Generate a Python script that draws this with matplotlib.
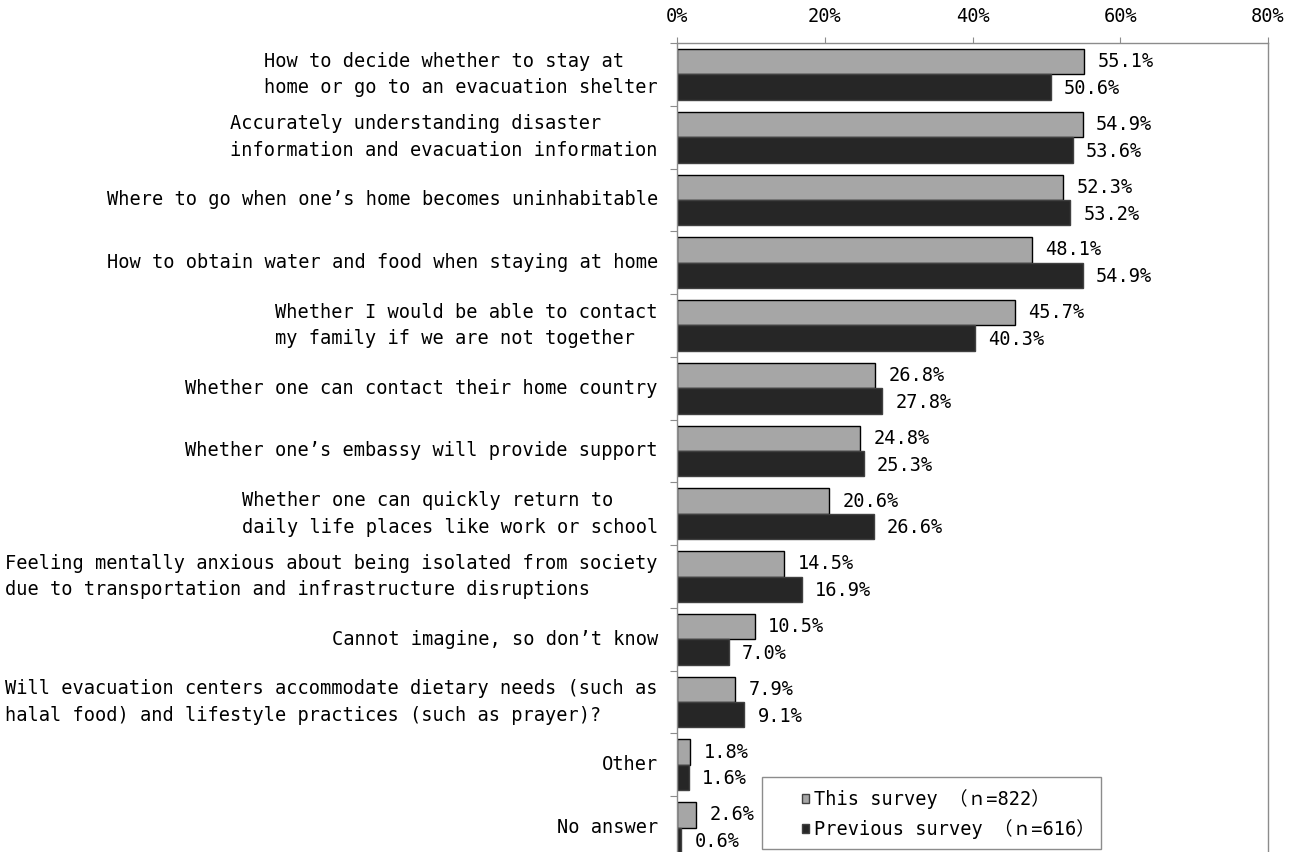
import matplotlib.pyplot as plt
from matplotlib.patches import Patch, Rectangle
import numpy as np

# === Data ===
categories = [
    "How to decide whether to stay at\nhome or go to an evacuation shelter",
    "Accurately understanding disaster\ninformation and evacuation information",
    "Where to go when one’s home becomes uninhabitable",
    "How to obtain water and food when staying at home",
    "Whether I would be able to contact\nmy family if we are not together",
    "Whether one can contact their home country",
    "Whether one’s embassy will provide support",
    "Whether one can quickly return to\ndaily life places like work or school",
    "Feeling mentally anxious about being isolated from society\ndue to transportation and infrastructure disruptions",
    "Cannot imagine, so don’t know",
    "Will evacuation centers accommodate dietary needs (such as\nhalal food) and lifestyle practices (such as prayer)?",
    "Other",
    "No answer",
]
this_survey = [55.1, 54.9, 52.3, 48.1, 45.7, 26.8, 24.8, 20.6, 14.5, 10.5, 7.9, 1.8, 2.6]
prev_survey = [50.6, 53.6, 53.2, 54.9, 40.3, 27.8, 25.3, 26.6, 16.9, 7.0, 9.1, 1.6, 0.6]
series_labels = ["This survey （ｎ=822）", "Previous survey （ｎ=616）"]
x_ticks = [0, 20, 40, 60, 80]

FONT = ["DejaVu Sans Mono", "Noto Sans CJK JP"]
FS = 13.4
plt.rcParams["font.family"] = FONT

light = "#a6a6a6"
dark = "#262626"
frame = "#8c8c8c"

fig = plt.figure(figsize=(12.96, 8.52), dpi=100)
ax = fig.add_axes([677 / 1296, (852 - 859) / 852, 591 / 1296, 816 / 852])

y = np.arange(len(categories))
h = 0.405
ax.barh(y - h / 2, this_survey, height=h, color=light, edgecolor="black", linewidth=1.0)
ax.barh(y + h / 2, prev_survey, height=h, color=dark, edgecolor="#404040", linewidth=1.0)

# value labels
for yi, v in zip(y, this_survey):
    ax.annotate(f"{v:.1f}%", (v, yi - h / 2), xytext=(9.5, 0), textcoords="offset points",
                ha="left", va="center", fontsize=FS)
for yi, v in zip(y, prev_survey):
    ax.annotate(f"{v:.1f}%", (v, yi + h / 2), xytext=(9.5, -1), textcoords="offset points",
                ha="left", va="center", fontsize=FS)

ax.set_xlim(0, 80)
ax.set_ylim(len(categories) - 0.5, -0.5)

# x axis on top
ax.xaxis.tick_top()
ax.set_xticks(x_ticks)
ax.set_xticklabels([f"{t}%" for t in x_ticks], fontsize=FS)
ax.tick_params(axis="x", length=4, color=frame, pad=8)

# category boundary ticks on left, labels as text
ax.set_yticks(np.arange(len(categories) + 1) - 0.5)
ax.set_yticklabels([])
ax.tick_params(axis="y", length=5, color=frame)
for yi, lab in zip(y, categories):
    ax.text(-0.0325, yi, lab, transform=ax.get_yaxis_transform(), ha="right", va="center",
            multialignment="left", fontsize=FS, linespacing=1.5)

for s in ax.spines.values():
    s.set_color(frame)
    s.set_linewidth(1.0)

# legend box
ax.add_patch(Rectangle(((762 - 677) / 591, 1 - (849 - 43) / 816), (1101 - 762) / 591, (849 - 777) / 816,
                       transform=ax.transAxes, facecolor="white", edgecolor=frame, linewidth=1.0, zorder=5))
handles = [Patch(facecolor=light, edgecolor="#404040"), Patch(facecolor=dark, edgecolor="#404040")]
ax.legend(handles, series_labels, loc="center left",
          bbox_to_anchor=((802 - 677) / 591, 1 - (814 - 43) / 816), frameon=False,
          fontsize=FS, handlelength=0.4, handleheight=0.4, handletextpad=0.25,
          labelspacing=0.55, borderpad=0, borderaxespad=0).set_zorder(6)

fig.savefig("out.png", dpi=100)
